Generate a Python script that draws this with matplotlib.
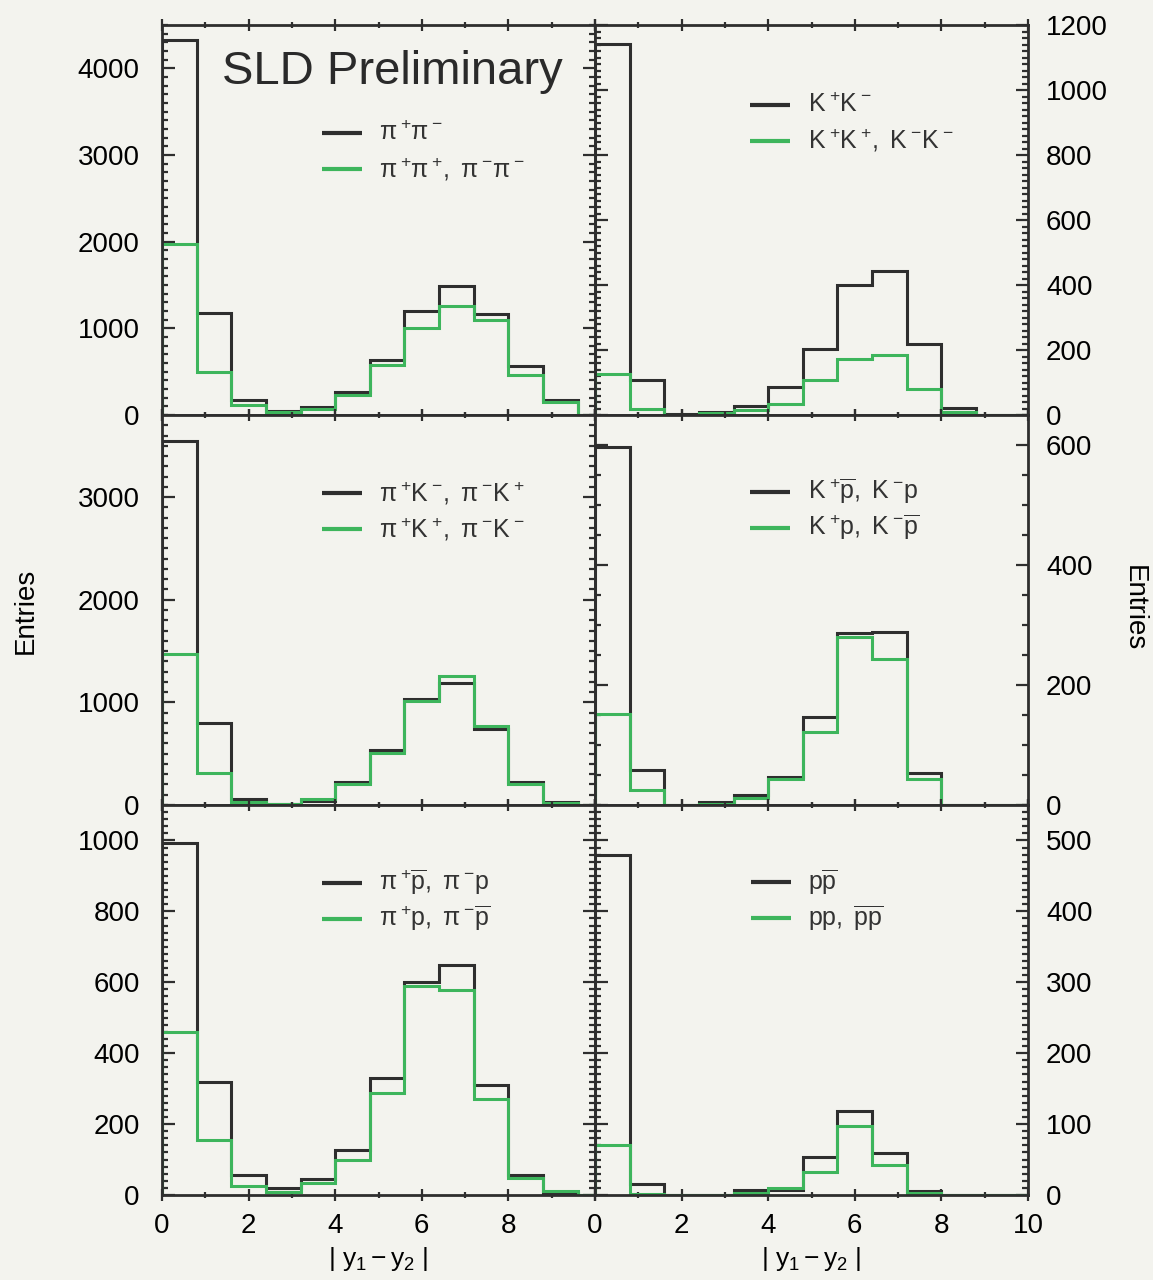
import numpy as np
import matplotlib
matplotlib.use('Agg')
import matplotlib.pyplot as plt
from matplotlib.ticker import MultipleLocator

plt.rcParams['font.family'] = ['Liberation Sans', 'DejaVu Sans']
plt.rcParams['mathtext.fontset'] = 'custom'
plt.rcParams['mathtext.rm'] = 'Liberation Sans'
plt.rcParams['mathtext.it'] = 'Liberation Sans'
plt.rcParams['mathtext.bf'] = 'Liberation Sans:bold'

# |y1 - y2| bins, width 0.8
edges = np.arange(0, 10.41, 0.8)

# opposite-charge (black) and like-charge (green) pair counts per bin
pipi_os = [4330, 1180, 170, 50, 90, 270, 640, 1200, 1490, 1160, 560, 175, 0]
pipi_ss = [1970, 500, 110, 40, 75, 230, 580, 1005, 1255, 1100, 465, 155, 0]

kk_os = [1142, 107, 3, 10, 28, 86, 204, 400, 442, 219, 22, 0, 0]
kk_ss = [127, 20, 0, 5, 15, 35, 107, 173, 184, 81, 10, 0, 0]

pik_os = [3550, 800, 60, 10, 40, 226, 540, 1030, 1193, 737, 226, 33, 0]
pik_ss = [1475, 308, 33, 8, 60, 200, 510, 1010, 1258, 770, 200, 20, 0]

kp_os = [597, 58, 0, 5, 17, 47, 147, 287, 288, 54, 0, 0, 0]
kp_ss = [152, 25, 0, 2, 11, 44, 122, 280, 244, 44, 0, 0, 0]

pip_os = [994, 319, 57, 19, 45, 128, 330, 602, 649, 310, 57, 5, 0]
pip_ss = [460, 156, 24, 9, 33, 99, 289, 590, 577, 270, 47, 10, 0]

pp_os = [480, 16, 0, 0, 7, 7, 53, 118, 59, 5, 0, 0, 0]
pp_ss = [71, 2, 0, 0, 3, 10, 33, 97, 42, 3, 0, 0, 0]

labels = [
    (r'$\pi^+\!\pi^-$', r'$\pi^+\!\pi^+\!,\ \pi^-\!\pi^-$'),
    (r'$K^+\!K^-$', r'$K^+\!K^+\!,\ K^-\!K^-$'),
    (r'$\pi^+\!K^-\!,\ \pi^-\!K^+$', r'$\pi^+\!K^+\!,\ \pi^-\!K^-$'),
    (r'$K^+\!\overline{p},\ K^-\!p$', r'$K^+\!p,\ K^-\!\overline{p}$'),
    (r'$\pi^+\!\overline{p},\ \pi^-\!p$', r'$\pi^+\!p,\ \pi^-\!\overline{p}$'),
    (r'$p\overline{p}$', r'$pp,\ \overline{p}\overline{p}$'),
]
series = [(pipi_os, pipi_ss), (kk_os, kk_ss), (pik_os, pik_ss),
          (kp_os, kp_ss), (pip_os, pip_ss), (pp_os, pp_ss)]
ylims = [4500, 1200, 3800, 650, 1100, 550]
ymajor = [1000, 200, 1000, 200, 200, 100]
yminor = [100, 20, 100, 50, 20, 10]
# legend anchor: (line start x, first row y) in axes fraction
key_pos = [(0.369, 0.723), (0.359, 0.795), (0.369, 0.800),
           (0.359, 0.803), (0.369, 0.800), (0.361, 0.803)]

BLACK = '#2e2e2e'
GREEN = '#3db55c'
BG = '#f3f3ee'

fig = plt.figure(figsize=(11.53, 12.8), dpi=100, facecolor=BG)
left = 162 / 1153
width = 433 / 1153
height = 390 / 1280
bottom0 = 1 - 1195 / 1280

for i in range(6):
    row, col = divmod(i, 2)
    ax = fig.add_axes([left + col * width, bottom0 + (2 - row) * height, width, height])
    ax.set_facecolor(BG)
    os_vals, ss_vals = series[i]
    ax.stairs(os_vals, edges, color=BLACK, lw=2.2, zorder=3)
    ax.stairs(ss_vals, edges, color=GREEN, lw=2.2, zorder=4)
    ax.set_xlim(0, 10)
    ax.set_ylim(0, ylims[i])

    for s in ax.spines.values():
        s.set_linewidth(2.0)
        s.set_color(BLACK)
        s.set_zorder(5)

    ax.xaxis.set_major_locator(MultipleLocator(2))
    ax.xaxis.set_minor_locator(MultipleLocator(1))
    ax.yaxis.set_major_locator(MultipleLocator(ymajor[i]))
    ax.yaxis.set_minor_locator(MultipleLocator(yminor[i]))

    ax.tick_params(axis='x', which='both', direction='inout', top=True, bottom=True,
                   color=BLACK, width=1.6, labelsize=20, pad=8.5)
    ax.tick_params(axis='x', which='major', length=9)
    ax.tick_params(axis='x', which='minor', length=5)
    ax.tick_params(axis='y', which='both', direction='in', left=True, right=True,
                   color=BLACK, width=1.6, labelsize=20)
    ax.tick_params(axis='y', which='major', length=9)
    ax.tick_params(axis='y', which='minor', length=4.5)

    if col == 1:
        ax.tick_params(axis='y', labelleft=False, labelright=True, pad=13)
    else:
        ax.tick_params(axis='y', pad=16)

    if row < 2:
        ax.tick_params(axis='x', labelbottom=False)
    else:
        ax.set_xticks(np.arange(0, 11, 2))
        if col == 0:
            ax.set_xticklabels(['0', '2', '4', '6', '8', ''])
        ax.set_xlabel(r'$|\ y_1 - y_2\ |$', fontsize=19, labelpad=4)

    # legend keys
    kx, ky = key_pos[i]
    for j, (c, lab) in enumerate(zip([BLACK, GREEN], labels[i])):
        yy = ky - j * 0.092
        ax.plot([kx, kx + 0.092], [yy, yy], color=c, lw=3, transform=ax.transAxes,
                solid_capstyle='butt')
        ax.text(kx + 0.132, yy, lab, transform=ax.transAxes, fontsize=18,
                va='center', ha='left', color='#333333')

    if i == 0:
        ax.text(0.138, 0.879, 'SLD Preliminary', transform=ax.transAxes,
                fontsize=34, va='center', ha='left', color='#2a2a2a')

fig.text(0.022, 0.523, 'Entries', rotation=90, fontsize=20, va='center', ha='center')
fig.text(0.983, 0.525, 'Entries', rotation=270, fontsize=20, va='center', ha='center')

fig.savefig('out.png', dpi=100, facecolor=BG)
